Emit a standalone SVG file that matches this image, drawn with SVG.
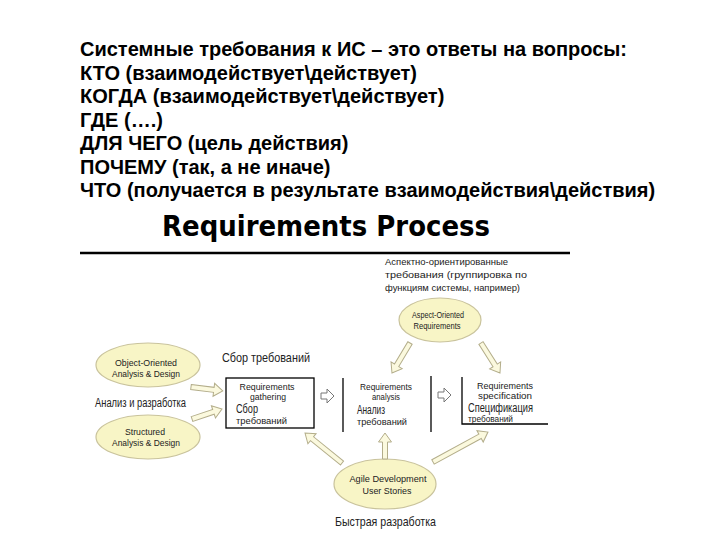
<svg xmlns="http://www.w3.org/2000/svg" width="720" height="540" viewBox="0 0 720 540">
<style>
.q{font-family:"Liberation Sans",Arial,sans-serif;font-weight:bold;font-size:20px;fill:#000}
.t{font-family:"DejaVu Sans","Liberation Sans",sans-serif;font-weight:bold;font-size:29px;fill:#000}
.s{font-family:"Liberation Sans",Arial,sans-serif;font-size:9.5px;fill:#222}
.m{font-family:"Liberation Sans",Arial,sans-serif;font-size:12px;fill:#222}
.c{text-anchor:middle}
.ell{fill:#f8f5c6;stroke:#c9c39c;stroke-width:1.2}
.box{fill:none;stroke:#000;stroke-width:1.3}
.ba{fill:#fbf9de;stroke:#b3ad8a;stroke-width:1}
.wa{fill:#fff;stroke:#777;stroke-width:1}
</style>
<rect width="720" height="540" fill="#fff"/>
<g id="questions">
<text class="q" x="80" y="56">Системные требования к ИС – это ответы на вопросы:</text>
<text class="q" x="80" y="79.5">КТО (взаимодействует\действует)</text>
<text class="q" x="80" y="103">КОГДА (взаимодействует\действует)</text>
<text class="q" x="80" y="126.5">ГДЕ (….)</text>
<text class="q" x="80" y="150">ДЛЯ ЧЕГО (цель действия)</text>
<text class="q" x="80" y="173.5">ПОЧЕМУ (так, а не иначе)</text>
<text class="q" x="80" y="197">ЧТО (получается в результате взаимодействия\действия)</text>
</g>
<g id="title">
<text class="t" x="162" y="236" textLength="328" lengthAdjust="spacingAndGlyphs">Requirements Process</text>
<line x1="80" y1="253" x2="570" y2="253" stroke="#000" stroke-width="2.5"/>
</g>
<g id="aspect-note">
<text class="s" x="385" y="265" textLength="123" lengthAdjust="spacingAndGlyphs">Аспектно-ориентированные</text>
<text class="s" x="385" y="278" textLength="142" lengthAdjust="spacingAndGlyphs">требования (группировка по</text>
<text class="s" x="385" y="291" textLength="135" lengthAdjust="spacingAndGlyphs">функциям системы, например)</text>
</g>
<g id="aspect">
<ellipse class="ell" cx="440" cy="320" rx="41" ry="22"/>
<text class="s c" x="438" y="318" textLength="52" lengthAdjust="spacingAndGlyphs">Aspect-Oriented</text>
<text class="s c" x="437" y="329" textLength="47" lengthAdjust="spacingAndGlyphs">Requirements</text>
</g>
<g id="oo">
<ellipse class="ell" cx="148" cy="365" rx="52" ry="22"/>
<text class="s c" x="146" y="366" textLength="62" lengthAdjust="spacingAndGlyphs">Object-Oriented</text>
<text class="s c" x="146" y="377" textLength="68" lengthAdjust="spacingAndGlyphs">Analysis &amp; Design</text>
</g>
<g id="analysis-label">
<text class="m" x="95" y="407" textLength="91" lengthAdjust="spacingAndGlyphs">Анализ и разработка</text>
</g>
<g id="structured">
<ellipse class="ell" cx="148" cy="437" rx="52" ry="22"/>
<text class="s c" x="145" y="435" textLength="40" lengthAdjust="spacingAndGlyphs">Structured</text>
<text class="s c" x="146" y="446" textLength="68" lengthAdjust="spacingAndGlyphs">Analysis &amp; Design</text>
</g>
<g id="gathering">
<text class="m" x="222" y="362" style="font-size:13px" textLength="88" lengthAdjust="spacingAndGlyphs">Сбор требований</text>
<rect class="box" x="226" y="378" width="88" height="50"/>
<text class="s c" x="267" y="390" textLength="55" lengthAdjust="spacingAndGlyphs">Requirements</text>
<text class="s c" x="268" y="400" textLength="36" lengthAdjust="spacingAndGlyphs">gathering</text>
<text class="m" x="236" y="413" textLength="22" lengthAdjust="spacingAndGlyphs">Сбор</text>
<text class="s" x="236" y="424" textLength="51" lengthAdjust="spacingAndGlyphs">требований</text>
</g>
<g id="analysis">
<line class="box" x1="343" y1="378" x2="343" y2="432"/>
<line class="box" x1="431" y1="376" x2="431" y2="432"/>
<text class="s c" x="386" y="390" textLength="52" lengthAdjust="spacingAndGlyphs">Requirements</text>
<text class="s c" x="386" y="400" textLength="28" lengthAdjust="spacingAndGlyphs">analysis</text>
<text class="m" x="357" y="414" textLength="28" lengthAdjust="spacingAndGlyphs">Анализ</text>
<text class="s" x="357" y="425" textLength="50" lengthAdjust="spacingAndGlyphs">требований</text>
</g>
<g id="specification">
<polyline class="box" points="462,377 462,424 548,424"/>
<text class="s c" x="505" y="389" textLength="56" lengthAdjust="spacingAndGlyphs">Requirements</text>
<text class="s c" x="505" y="398.5" textLength="54" lengthAdjust="spacingAndGlyphs">specification</text>
<text class="m" x="468" y="411.5" textLength="65" lengthAdjust="spacingAndGlyphs">Спецификация</text>
<text class="s" x="468" y="422" style="font-size:9px" textLength="45" lengthAdjust="spacingAndGlyphs">требований</text>
</g>
<g id="agile">
<ellipse class="ell" cx="385" cy="484" rx="51" ry="25"/>
<text class="s c" x="388" y="482" textLength="77" lengthAdjust="spacingAndGlyphs">Agile Development</text>
<text class="s c" x="387" y="494" textLength="49" lengthAdjust="spacingAndGlyphs">User Stories</text>
<text class="m" x="335" y="526" style="font-size:13px" textLength="101" lengthAdjust="spacingAndGlyphs">Быстрая разработка</text>
</g>
<g id="connectors">
<path class="ba" transform="translate(191,387) rotate(7.1)" d="M0,-2.5 H23 V-6.5 L32,0 L23,6.5 V2.5 H0 Z"/>
<path class="ba" transform="translate(192,419) rotate(-18.4)" d="M0,-2.5 H22.6 V-6.5 L31.6,0 L22.6,6.5 V2.5 H0 Z"/>
<path class="wa" transform="translate(321,396)" d="M0,-3 H6 V-7 L13,0 L6,7 V3 H0 Z"/>
<path class="wa" transform="translate(438,395)" d="M0,-3 H6 V-7 L13,0 L6,7 V3 H0 Z"/>
<path class="ba" transform="translate(410,343) rotate(121)" d="M0,-2.5 H26 V-6.5 L35,0 L26,6.5 V2.5 H0 Z"/>
<path class="ba" transform="translate(481,343) rotate(57.7)" d="M0,-2.5 H26.5 V-6.5 L35.5,0 L26.5,6.5 V2.5 H0 Z"/>
<path class="ba" transform="translate(342,463) rotate(-141)" d="M0,-2.5 H38.6 V-6.5 L47.6,0 L38.6,6.5 V2.5 H0 Z"/>
<path class="ba" transform="translate(385,459) rotate(-90)" d="M0,-2.5 H17 V-6.5 L26,0 L17,6.5 V2.5 H0 Z"/>
<path class="ba" transform="translate(433,462) rotate(-28.6)" d="M0,-2.5 H53.6 V-6.5 L62.6,0 L53.6,6.5 V2.5 H0 Z"/>
</g>
</svg>
